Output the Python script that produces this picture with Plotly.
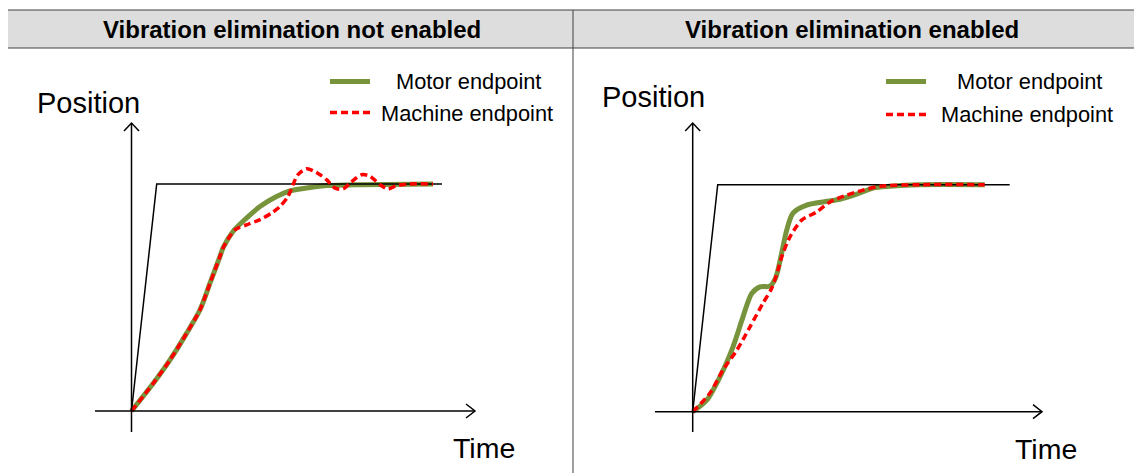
import plotly.graph_objects as go

W, H = 1134, 473

# ---------------- data (time in arbitrary units, position normalized 0..1) ----------------
# Left panel: vibration elimination not enabled
ref_t_left = [0, 2.52, 31.05]
ref_p_left = [0, 1, 1]

motor_t_left = [0, 2.18, 3.85, 5.52, 6.85, 7.85, 8.85, 9.15, 10.15, 11.5, 12.85, 14.5,
                15.85, 17.85, 19.5, 22.85, 30.15]
motor_p_left = [0, 0.122, 0.225, 0.343, 0.446, 0.563, 0.681, 0.718, 0.791, 0.850, 0.901, 0.945,
                0.970, 0.985, 0.993, 0.997, 1.0]

machine_t_left = [0, 2.18, 3.85, 5.52, 6.85, 7.85, 8.85, 9.15, 10.35, 11.5, 12.85, 14.0,
                  14.85, 15.65, 16.15, 16.65, 17.5, 18.5, 19.5, 20.35, 21.15, 21.85, 23.0,
                  23.85, 24.85, 25.65, 26.5, 27.85, 30.15]
machine_p_left = [0, 0.122, 0.225, 0.343, 0.446, 0.563, 0.681, 0.718, 0.798, 0.820, 0.843, 0.872,
                  0.901, 0.945, 0.997, 1.041, 1.067, 1.051, 1.019, 0.982, 0.978, 1.004, 1.041,
                  1.034, 0.997, 0.978, 0.993, 1.0, 1.0]

# Right panel: vibration elimination enabled
ref_t_right = [0, 2.5, 31.7]
ref_p_right = [0, 1, 1]

motor_t_right = [0, 1.4, 2.73, 4.03, 5.03, 5.9, 6.73, 7.73, 8.3, 8.9, 9.4, 10.03, 11.4,
                 13.03, 14.73, 16.4, 18.03, 19.73, 22.7, 29.2]
motor_p_right = [0, 0.051, 0.154, 0.286, 0.418, 0.521, 0.550, 0.553, 0.59, 0.699, 0.800, 0.875,
                 0.910, 0.924, 0.936, 0.958, 0.985, 0.993, 1.0, 1.0]

machine_t_right = [0, 1.73, 3.03, 4.43, 5.73, 7.03, 7.9, 8.53, 8.9, 9.73, 10.9, 12.4, 13.73,
                   15.4, 17.03, 18.73, 22.7, 29.2]
machine_p_right = [0, 0.082, 0.184, 0.272, 0.374, 0.478, 0.544, 0.624, 0.682, 0.770, 0.844,
                   0.880, 0.924, 0.954, 0.976, 0.993, 1.0, 1.0]

titles = ["Vibration elimination not enabled", "Vibration elimination enabled"]
legend_names = ["Motor endpoint", "Machine endpoint"]
y_label = "Position"
x_label = "Time"

# ---------------- styling / layout ----------------
GREEN = "#77933C"
RED = "#FF0000"
FONT = "Liberation Sans, Arial, sans-serif"
PX_PER_T = 10.0
PX_PER_P = 227.0


def px(x):
    return x / W


def py(y):
    return 1 - y / H


panels = [
    dict(origin=(131.5, 411.0), xdom=(80, 500), ydom=(110, 445), xa="x", ya="y",
         ref=(ref_t_left, ref_p_left), motor=(motor_t_left, motor_p_left),
         machine=(machine_t_left, machine_p_left), xaxis_end=475, xaxis_start=95,
         pos_lbl=(88.5, 103), time_lbl=(483.5, 448), title_x=292,
         leg_x=330, leg_y=(81.5, 112.5), leg_txt=(468, 466.5)),
    dict(origin=(692.7, 411.7), xdom=(640, 1070), ydom=(110, 445), xa="x2", ya="y2",
         ref=(ref_t_right, ref_p_right), motor=(motor_t_right, motor_p_right),
         machine=(machine_t_right, machine_p_right), xaxis_end=1042, xaxis_start=655,
         pos_lbl=(653.5, 97), time_lbl=(1046, 449), title_x=852,
         leg_x=886, leg_y=(81.5, 114.5), leg_txt=(1029.5, 1026.5)),
]

fig = go.Figure()
shapes = []
annotations = []
layout_axes = {}

# header band
shapes.append(dict(type="rect", xref="paper", yref="paper", x0=px(8), x1=px(W), y0=py(48), y1=py(10),
                   fillcolor="#DDDDDD", line=dict(width=0), layer="below"))
for yy in (10, 48):
    shapes.append(dict(type="line", xref="paper", yref="paper", x0=px(8), x1=px(W), y0=py(yy), y1=py(yy),
                       line=dict(color="#404040", width=1)))
shapes.append(dict(type="line", xref="paper", yref="paper", x0=px(573), x1=px(573), y0=py(10), y1=py(H),
                   line=dict(color="#404040", width=1)))

for i, p in enumerate(panels):
    ox, oy = p["origin"]
    x0, x1 = p["xdom"]
    ytop, ybot = p["ydom"]
    xname = "xaxis" if p["xa"] == "x" else "xaxis" + p["xa"][1:]
    yname = "yaxis" if p["ya"] == "y" else "yaxis" + p["ya"][1:]
    layout_axes[xname] = dict(domain=[px(x0), px(x1)],
                              range=[(x0 - ox) / PX_PER_T, (x1 - ox) / PX_PER_T],
                              visible=False, fixedrange=True, anchor=p["ya"])
    layout_axes[yname] = dict(domain=[py(ybot), py(ytop)],
                              range=[(oy - ybot) / PX_PER_P, (oy - ytop) / PX_PER_P],
                              visible=False, fixedrange=True, anchor=p["xa"])

    fig.add_trace(go.Scatter(x=p["motor"][0], y=p["motor"][1], mode="lines", xaxis=p["xa"], yaxis=p["ya"],
                             line=dict(color=GREEN, width=5, shape="spline", smoothing=0.8),
                             name=legend_names[0], showlegend=False, hoverinfo="skip"))
    fig.add_trace(go.Scatter(x=p["ref"][0], y=p["ref"][1], mode="lines", xaxis=p["xa"], yaxis=p["ya"],
                             line=dict(color="black", width=1.5), showlegend=False, hoverinfo="skip"))
    fig.add_trace(go.Scatter(x=p["machine"][0], y=p["machine"][1], mode="lines", xaxis=p["xa"], yaxis=p["ya"],
                             line=dict(color=RED, width=3.5, dash="7px,4px", shape="spline", smoothing=0.8),
                             name=legend_names[1], showlegend=False, hoverinfo="skip"))

    # axis arrows (decoration)
    ax_line = dict(color="black", width=1.5)
    shapes.append(dict(type="line", xref="paper", yref="paper", x0=px(ox), x1=px(ox), y0=py(432), y1=py(123),
                       line=ax_line))
    shapes.append(dict(type="path", xref="paper", yref="paper",
                       path=f"M {px(ox-7.5)},{py(131)} L {px(ox)},{py(123)} L {px(ox+7.5)},{py(131)}",
                       line=ax_line))
    xs, xe = p["xaxis_start"], p["xaxis_end"]
    shapes.append(dict(type="line", xref="paper", yref="paper", x0=px(xs), x1=px(xe), y0=py(oy), y1=py(oy),
                       line=ax_line))
    shapes.append(dict(type="path", xref="paper", yref="paper",
                       path=f"M {px(xe-9)},{py(oy-7)} L {px(xe)},{py(oy)} L {px(xe-9)},{py(oy+7)}",
                       line=ax_line))

    # legend swatches
    lx = p["leg_x"]
    ly1, ly2 = p["leg_y"]
    shapes.append(dict(type="line", xref="paper", yref="paper", x0=px(lx), x1=px(lx + 40), y0=py(ly1), y1=py(ly1),
                       line=dict(color=GREEN, width=5)))
    shapes.append(dict(type="line", xref="paper", yref="paper", x0=px(lx), x1=px(lx + 40), y0=py(ly2), y1=py(ly2),
                       line=dict(color=RED, width=3.5, dash="7px,4px")))
    annotations.append(dict(text=legend_names[0], x=px(p["leg_txt"][0]), y=py(ly1), xref="paper", yref="paper",
                            xanchor="center", yanchor="middle", showarrow=False,
                            font=dict(family=FONT, size=21.8, color="black")))
    annotations.append(dict(text=legend_names[1], x=px(p["leg_txt"][1]), y=py(ly2 + 0.5), xref="paper", yref="paper",
                            xanchor="center", yanchor="middle", showarrow=False,
                            font=dict(family=FONT, size=21.8, color="black")))

    # axis labels
    annotations.append(dict(text=y_label, x=px(p["pos_lbl"][0]), y=py(p["pos_lbl"][1]), xref="paper", yref="paper",
                            xanchor="center", yanchor="middle", showarrow=False,
                            font=dict(family=FONT, size=29, color="black")))
    annotations.append(dict(text=x_label, x=px(p["time_lbl"][0]), y=py(p["time_lbl"][1]), xref="paper", yref="paper",
                            xanchor="center", yanchor="middle", showarrow=False,
                            font=dict(family=FONT, size=28.5, color="black")))
    # header title
    annotations.append(dict(text="<b>" + titles[i] + "</b>", x=px(p["title_x"]), y=py(29), xref="paper", yref="paper",
                            xanchor="center", yanchor="middle", showarrow=False,
                            font=dict(family=FONT, size=24, color="black")))

fig.update_layout(width=W, height=H, autosize=False, margin=dict(l=0, r=0, t=0, b=0),
                  paper_bgcolor="white", plot_bgcolor="rgba(0,0,0,0)",
                  shapes=shapes, annotations=annotations, showlegend=False, **layout_axes)

fig.write_html("out.html", config={"displayModeBar": False},
               post_script="document.body.style.margin='0';document.body.style.overflow='hidden';")
